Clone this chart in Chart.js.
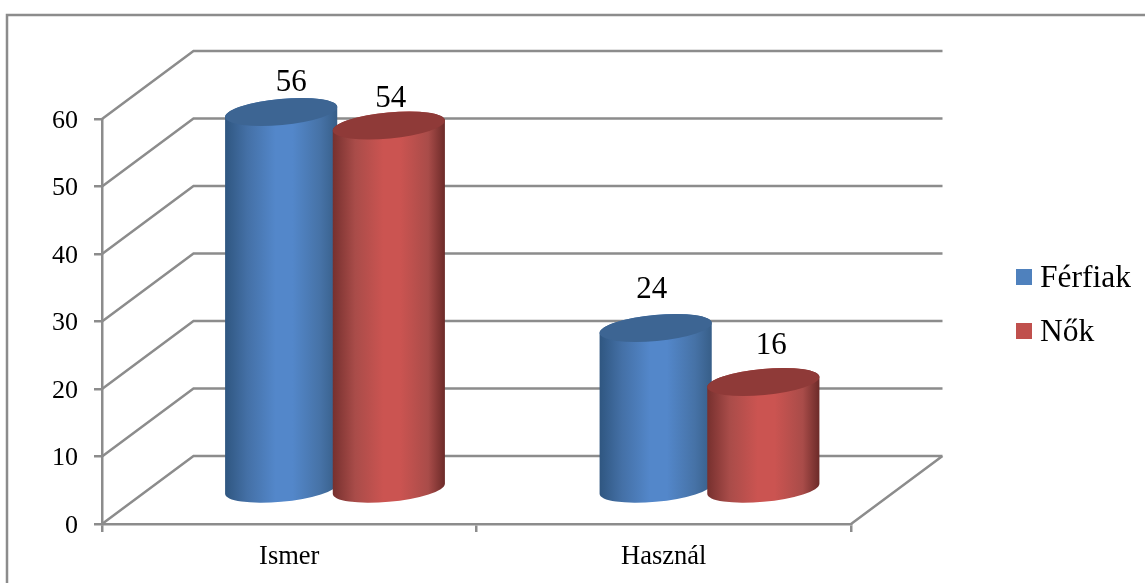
<!DOCTYPE html>
<html>
<head>
<meta charset="utf-8">
<title>Ismer / Használ</title>
<style>
  html, body { margin: 0; padding: 0; background: #fff; }
  canvas { display: block; }
</style>
<script src="https://cdn.jsdelivr.net/npm/chart.js@4"></script>
</head>
<body>
<canvas id="chart" width="1145" height="583"></canvas>
<script>
const categories = ['Ismer', 'Használ'];
const seriesNames = ['Férfiak', 'Nők'];
const ferfiak = [56, 24];
const nok = [54, 16];

const FONT = '"Liberation Serif", "Times New Roman", serif';
const GRID = '#8c8c8c';
const BLUE = '#4f81bd';
const RED = '#c0504d';
// how far the back wall sits from the front plane
const DEPTH_X = 91.5;
const DEPTH_Y = 68;

const shading = {
  [BLUE]: { cap: '#3d6593', stops: ['#2f5680', '#4470a6', '#5387ca', '#5387ca', '#4672a6', '#375e88'] },
  [RED]: { cap: '#8f3a38', stops: ['#76302e', '#a94c49', '#cb5451', '#cb5451', '#a94c49', '#6b2a28'] },
};
const stopAt = [0, 0.2, 0.45, 0.6, 0.85, 1];

// manual tweaks for the value labels, one [dx, dy] per bar
const labelNudge = [
  [[10, -21], [-4, -30]],
  [[2, -19], [8, -28]],
];

// bar element drawn as a slightly tilted cylinder, pushed back to mid depth
class CylinderElement extends Chart.BarElement {
  draw(ctx) {
    const { x, y, base, width } = this.getProps(['x', 'y', 'base', 'width']);
    const shade = shading[this.options.backgroundColor];
    const cx = x + DEPTH_X / 2;
    const top = y - DEPTH_Y / 2;
    const bottom = base - DEPTH_Y / 2;
    const a = width * 0.523;
    const b = a * 0.232;
    const tilt = -5.4 * Math.PI / 180;
    // angle on the ellipse where it is widest on screen
    const t0 = Math.atan2(-b * Math.sin(tilt), a * Math.cos(tilt));

    const grad = ctx.createLinearGradient(cx - a, 0, cx + a, 0);
    shade.stops.forEach((c, i) => grad.addColorStop(stopAt[i], c));

    ctx.save();
    ctx.beginPath();
    ctx.ellipse(cx, top, a, b, tilt, t0 + Math.PI, t0 + 2 * Math.PI);
    ctx.ellipse(cx, bottom, a, b, tilt, t0, t0 + Math.PI);
    ctx.closePath();
    ctx.fillStyle = grad;
    ctx.fill();

    ctx.beginPath();
    ctx.ellipse(cx, top, a, b, tilt, 0, 2 * Math.PI);
    ctx.fillStyle = shade.cap;
    ctx.fill();
    ctx.restore();
  }
}
CylinderElement.id = 'cylinder';
CylinderElement.defaults = Chart.BarElement.defaults;
CylinderElement.defaultRoutes = Chart.BarElement.defaultRoutes;

class CylinderController extends Chart.BarController {}
CylinderController.id = 'cylinderBar';
CylinderController.defaults = Object.assign({}, Chart.BarController.defaults, { dataElementType: 'cylinder' });
CylinderController.overrides = Chart.BarController.overrides;

Chart.register(CylinderElement, CylinderController);

const wallPlugin = {
  id: 'wall',
  beforeDatasetsDraw(chart) {
    const { ctx, scales: { x, y } } = chart;
    ctx.save();
    ctx.strokeStyle = GRID;
    ctx.lineWidth = 2.5;
    // outer frame, runs off the bottom edge
    ctx.beginPath();
    ctx.moveTo(7, 583);
    ctx.lineTo(7, 15);
    ctx.lineTo(1145, 15);
    ctx.stroke();

    ctx.beginPath();
    y.ticks.forEach((t) => {
      const py = y.getPixelForValue(t.value);
      ctx.moveTo(x.left, py);
      ctx.lineTo(x.left + DEPTH_X, py - DEPTH_Y);
      ctx.lineTo(x.right + DEPTH_X, py - DEPTH_Y);
    });
    // floor edge on the right
    ctx.moveTo(x.right, y.bottom);
    ctx.lineTo(x.right + DEPTH_X, y.bottom - DEPTH_Y);
    ctx.stroke();
    ctx.restore();

    // chart.js paints the last dataset first; the red bars must overlap the blue,
    // and `order` would also swap them in the group, so paint them here instead
    chart.data.datasets.forEach((ds, d) => chart.getDatasetMeta(d).controller.draw());
    return false;
  },
};

const valueLabels = {
  id: 'valueLabels',
  afterDraw(chart) {
    const { ctx } = chart;
    ctx.save();
    ctx.font = '31px ' + FONT;
    ctx.fillStyle = '#000';
    ctx.textAlign = 'center';
    ctx.textBaseline = 'alphabetic';
    chart.data.datasets.forEach((ds, d) => {
      chart.getDatasetMeta(d).data.forEach((bar, i) => {
        const [dx, dy] = labelNudge[d][i];
        ctx.fillText(ds.data[i], bar.x + DEPTH_X / 2 + dx, bar.y - DEPTH_Y / 2 + dy);
      });
    });
    ctx.restore();
  },
};

const sideLegend = {
  id: 'sideLegend',
  afterDraw(chart) {
    const { ctx } = chart;
    ctx.save();
    ctx.font = '31.5px ' + FONT;
    ctx.textBaseline = 'alphabetic';
    chart.data.datasets.forEach((ds, d) => {
      const rowY = 277 + d * 54;
      ctx.fillStyle = ds.backgroundColor;
      ctx.fillRect(1016, rowY - 8, 16, 16);
      ctx.fillStyle = '#000';
      ctx.fillText(ds.label, 1040, rowY + 10);
    });
    ctx.restore();
  },
};

new Chart(document.getElementById('chart'), {
  type: 'cylinderBar',
  data: {
    labels: categories,
    datasets: [
      { label: seriesNames[0], data: ferfiak, backgroundColor: BLUE },
      { label: seriesNames[1], data: nok, backgroundColor: RED },
    ],
  },
  plugins: [wallPlugin, valueLabels, sideLegend],
  options: {
    responsive: false,
    animation: false,
    devicePixelRatio: 1,
    layout: { padding: { left: 0, right: 294, top: 119, bottom: 0 } },
    categoryPercentage: 0.575,
    barPercentage: 1,
    plugins: { legend: { display: false }, tooltip: { enabled: false } },
    scales: {
      x: {
        afterFit(scale) { scale.height = 59; },
        border: { color: GRID, width: 2.5 },
        grid: { color: GRID, lineWidth: 2.5, drawOnChartArea: false, tickLength: 8 },
        ticks: { color: '#000', font: { family: FONT, size: 26.5 }, padding: 9 },
      },
      y: {
        min: 0,
        max: 60,
        afterFit(scale) { scale.width = 102; },
        border: { color: GRID, width: 2.5 },
        grid: { color: GRID, lineWidth: 2.5, drawOnChartArea: false, tickLength: 8 },
        ticks: { stepSize: 10, color: '#000', font: { family: FONT, size: 26 }, padding: 16, labelOffset: 2 },
      },
    },
  },
});
</script>
</body>
</html>
